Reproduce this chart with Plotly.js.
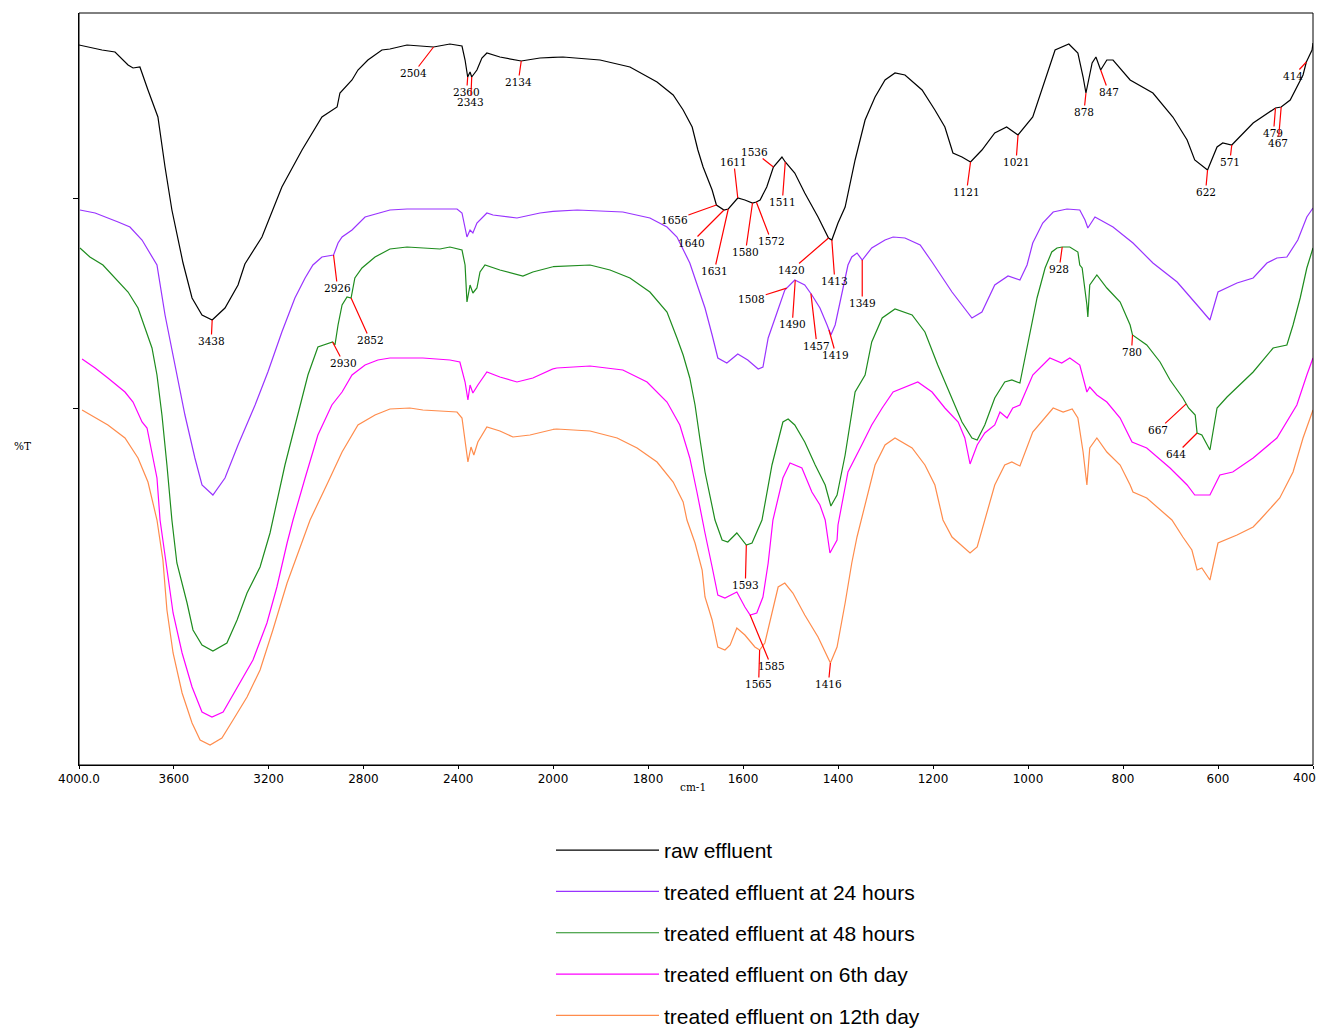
<!DOCTYPE html>
<html>
<head>
<meta charset="utf-8">
<script src="https://cdn.plot.ly/plotly-3.0.1.min.js"></script>
<style>html,body{margin:0;padding:0;background:#fff;}#chart{width:1319px;height:1032px;}</style>
</head>
<body>
<div id="chart"></div>
<script>
// ---- Series: wavenumber (cm-1) and %T (arbitrary offset scale) ----
const rawWn = [4000,3903,3848,3793,3772,3743,3709,3667,3637,3608,3561,3523,3481,3438,3384,3329,3300,3228,3144,3059,2975,2911,2899,2848,2823,2781,2722,2688,2616,2504,2435,2384,2371,2360,2350,2343,2321,2300,2279,2224,2134,2055,1979,1901,1838,1781,1747,1726,1707,1695,1684,1665,1656,1640,1631,1611,1596,1580,1572,1564,1550,1536,1518,1511,1491,1470,1442,1420,1413,1400,1385,1364,1343,1322,1301,1280,1259,1223,1196,1175,1158,1139,1121,1097,1070,1045,1021,990,969,943,914,895,884,878,865,857,847,834,821,785,737,695,665,649,622,602,590,571,526,479,467,448,421,414,402,400];
const rawT = [72.0,71.5,71.3,70.0,69.7,69.8,67.5,64.8,59.8,55.5,50.2,46.7,45.0,44.5,45.7,48.0,50.1,52.8,57.8,61.5,64.8,65.8,67.2,68.5,69.5,70.5,71.5,71.6,72.0,71.8,72.1,71.9,70.5,68.8,69.3,68.8,69.5,70.7,71.2,70.8,70.4,70.7,70.8,70.5,69.8,68.3,67.0,65.5,63.8,61.5,59.8,57.5,56.0,55.5,55.6,56.7,56.5,56.2,56.3,56.5,57.8,59.8,60.8,60.3,59.2,57.2,54.8,52.7,52.5,54.2,55.8,60.5,64.5,66.8,68.5,69.2,69.0,67.5,65.5,63.8,61.2,60.8,60.3,61.5,63.2,63.8,63.0,64.8,67.8,71.5,72.1,71.2,68.8,67.2,70.2,70.8,69.5,70.5,70.5,68.5,67.2,64.8,62.5,60.5,59.5,61.8,62.2,62.0,64.2,65.7,65.8,66.5,69.0,70.3,71.5,72.2];

const h24Wn = [3996,3932,3835,3785,3734,3692,3671,3637,3595,3553,3511,3481,3435,3384,3329,3257,3203,3144,3089,3046,3013,2975,2926,2907,2890,2848,2793,2688,2616,2405,2384,2371,2363,2350,2338,2321,2279,2253,2152,2055,1949,1853,1796,1760,1739,1712,1680,1665,1653,1634,1611,1590,1568,1558,1547,1528,1512,1491,1470,1455,1438,1423,1415,1406,1392,1379,1371,1360,1349,1329,1301,1284,1259,1227,1202,1160,1118,1097,1070,1042,1017,1002,990,969,947,918,891,880,874,859,821,779,737,686,644,617,600,560,526,497,476,455,432,413,400];
const h24T = [55.5,55.2,54.3,53.8,52.5,50.8,50.0,45.0,40.0,35.0,30.7,28.0,27.0,28.7,32.0,36.0,39.3,43.3,46.7,48.7,50.0,50.8,51.0,52.2,52.8,53.5,54.8,55.5,55.6,55.6,55.2,53.8,52.8,53.5,53.2,54.2,55.2,55.0,54.7,55.2,55.5,55.3,54.7,53.8,52.8,50.2,45.7,43.0,40.7,40.2,41.1,40.5,39.6,39.8,42.7,45.3,47.5,48.5,48.0,47.0,45.7,44.0,43.0,44.0,47.3,50.0,50.8,51.2,50.5,51.7,52.5,52.8,52.7,52.0,50.3,47.3,44.7,45.3,48.0,48.9,48.5,50.0,52.2,54.2,55.3,55.6,55.5,54.5,53.7,54.8,53.8,52.2,50.2,48.3,46.0,44.5,47.3,48.2,48.7,50.2,50.7,50.8,52.5,54.8,55.7];

const h48Wn = [3996,3954,3899,3848,3793,3751,3722,3692,3671,3650,3629,3608,3587,3544,3519,3481,3435,3376,3333,3291,3236,3194,3131,3076,3034,2992,2949,2930,2920,2907,2890,2869,2852,2836,2806,2751,2688,2616,2477,2435,2384,2371,2363,2350,2338,2321,2308,2287,2224,2169,2127,2085,2013,1922,1880,1838,1796,1760,1739,1726,1712,1701,1691,1680,1659,1644,1632,1613,1593,1581,1560,1539,1516,1505,1491,1470,1448,1427,1415,1402,1385,1364,1343,1329,1307,1280,1244,1217,1190,1160,1139,1118,1107,1091,1070,1049,1034,1017,996,981,964,950,939,928,912,895,891,886,876,874,870,855,834,806,785,780,750,722,701,674,662,648,644,634,617,602,581,554,526,484,455,442,427,413,400];
const h48T = [51.7,50.8,50.0,48.7,47.3,45.7,43.7,41.7,39.0,35.0,30.0,24.5,20.2,16.2,13.5,12.0,11.4,12.2,14.5,17.2,19.8,23.2,30.0,35.0,39.0,41.8,42.2,42.3,42.0,44.0,46.0,46.8,46.7,48.7,49.7,50.8,51.6,51.8,51.6,51.8,51.5,50.0,46.3,48.0,47.2,47.7,49.3,50.0,49.5,49.2,48.9,49.3,49.8,50.0,49.5,48.7,47.3,45.3,42.7,41.0,38.7,36.0,32.7,29.3,24.5,22.5,22.3,23.2,22.0,22.2,24.5,30.0,34.3,34.6,34.0,32.3,30.0,28.0,25.9,27.0,31.0,37.3,39.0,42.3,44.7,45.6,45.0,43.3,40.0,36.7,34.3,32.7,32.5,34.0,36.7,38.3,38.5,38.2,43.3,46.7,49.7,51.3,51.7,51.8,51.8,51.3,50.0,49.7,46.0,44.8,48.0,49.0,47.7,46.3,44.0,43.0,42.0,40.3,38.5,36.7,35.7,35.0,33.2,33.0,31.5,35.7,36.8,38.0,39.3,41.7,42.0,44.0,46.7,49.7,51.7];

const d6Wn = [3987,3932,3878,3806,3772,3734,3713,3692,3671,3658,3629,3603,3565,3523,3481,3439,3392,3333,3266,3207,3165,3122,3097,3046,2992,2933,2890,2848,2793,2739,2688,2549,2435,2393,2371,2359,2350,2338,2317,2279,2224,2152,2085,1992,1922,1853,1802,1760,1733,1712,1697,1686,1680,1665,1653,1638,1613,1596,1585,1571,1558,1547,1537,1516,1501,1476,1455,1438,1427,1417,1402,1400,1379,1350,1329,1307,1284,1232,1202,1175,1147,1133,1122,1107,1091,1070,1059,1044,1032,1017,990,954,929,912,891,876,870,855,834,806,781,750,701,665,649,617,596,569,526,476,434,413,400];
const d6T = [40.6,39.7,38.7,37.3,36.3,34.3,33.7,31.3,28.7,24.5,19.5,15.2,11.2,7.8,5.3,4.8,5.3,7.8,10.5,14.2,17.8,22.2,24.5,28.7,33.0,36.0,37.3,39.0,40.0,40.5,40.7,40.7,40.5,40.3,38.3,36.5,38.0,37.2,38.0,39.3,38.8,38.3,38.7,39.7,39.9,39.5,38.3,36.3,34.0,30.7,27.3,24.5,23.2,19.8,17.0,16.7,17.3,15.8,15.0,15.2,16.8,20.2,24.5,28.7,30.2,29.7,27.3,26.0,24.5,21.2,22.5,24.0,29.3,32.0,34.0,35.7,37.3,38.3,37.3,35.7,34.3,32.7,30.1,32.0,33.2,34.0,35.3,34.7,35.7,36.0,39.0,40.7,40.2,40.7,40.0,37.3,37.8,37.0,36.3,34.7,32.3,31.7,29.7,28.0,27.0,27.0,29.0,29.3,30.7,32.7,36.0,39.0,40.7];

const d12Wn = [3987,3932,3878,3806,3751,3709,3671,3646,3629,3603,3565,3523,3489,3447,3397,3350,3291,3236,3182,3122,3068,3025,2949,2890,2823,2751,2688,2604,2549,2405,2384,2371,2359,2346,2334,2317,2279,2224,2169,2097,1992,1922,1865,1823,1781,1747,1726,1718,1701,1686,1680,1665,1653,1638,1627,1613,1596,1575,1565,1554,1539,1526,1512,1495,1470,1442,1416,1402,1385,1371,1360,1347,1322,1301,1280,1244,1217,1196,1179,1160,1122,1107,1091,1070,1049,1034,1017,990,947,926,907,895,884,876,870,855,834,806,785,779,750,716,697,674,655,644,634,617,600,560,526,512,470,442,421,400];
const d12T = [35.5,34.7,34.0,32.7,30.7,28.3,24.5,20.5,15.5,11.2,7.2,4.2,2.5,2.0,2.7,4.5,6.8,9.5,13.5,18.2,21.8,24.5,28.3,31.3,34.0,35.0,35.6,35.7,35.5,35.3,34.7,32.3,30.3,31.8,31.0,32.3,33.8,33.4,32.8,33.0,33.6,33.4,32.7,31.7,30.3,28.3,26.3,24.5,22.2,19.5,16.8,14.5,11.8,11.5,12.0,13.7,13.0,11.8,11.5,12.2,15.2,17.8,18.2,17.2,15.0,12.8,10.2,11.8,16.2,20.2,22.8,25.3,30.0,32.0,32.7,31.7,30.0,28.0,24.5,22.8,21.2,21.8,24.5,28.0,30.0,30.3,29.9,33.3,35.7,35.3,35.6,34.7,31.3,28.0,31.7,32.7,31.3,30.0,28.0,27.3,26.7,25.3,24.5,22.8,21.5,19.5,19.7,18.5,22.2,23.0,23.8,24.5,26.7,29.3,32.7,35.5];

const seriesNames = ['raw effluent','treated effluent at 24 hours','treated effluent at 48 hours','treated effluent on 6th day','treated effluent on 12th day'];
const seriesColors = ['#000000','#9933ff','#1e8c1e','#ff00ff','#ff8c4c'];

// tick labels
const xTicksHigh = [4000,3600,3200,2800,2400];
const xTickTextHigh = ['4000.0','3600','3200','2800','2400'];
const xTicksLow = [2000,1800,1600,1400,1200,1000,800,600,400];
const xTickTextLow = ['2000','1800','1600','1400','1200','1000','800','600',''];
const xEndLabel = '400';

// peak labels: [series index, wavenumber, label dx px, label dy px]
const peakList = [
 [0,3438,-1,21],[0,2504,-20,26],[0,2360,-1,15],[0,2343,-1,25],[0,2134,-3,21],
 [0,1656,-42,15],[0,1640,-33,33],[0,1631,-14,62],[0,1611,-4,-36],[0,1536,-19,-15],
 [0,1580,-7,49],[0,1572,15,39],[0,1511,-3,40],[0,1420,-37,32],[0,1413,3,41],
 [0,1121,-4,30],[0,1021,-2,27],[0,878,-2,19],[0,847,8,22],[0,622,-2,22],
 [0,571,-2,17],[0,479,-2,25],[0,467,-3,36],[0,414,-13,14],
 [1,2926,4,33],[1,1508,-35,11],[1,1490,-3,44],[1,1457,6,52],[1,1419,7,25],[1,1349,0,43],
 [2,2930,11,21],[2,2852,19,42],[2,928,-3,22],[2,780,-1,17],[2,667,-28,26],[2,644,-21,21],[2,1593,-1,40],
 [3,1585,21,51],
 [4,1565,-1,34],[4,1416,-2,21]
];

const allWn = [rawWn,h24Wn,h48Wn,d6Wn,d12Wn];
const allT = [rawT,h24T,h48T,d6T,d12T];

function interp(wn, vals, w){
  for(let i=0;i<wn.length-1;i++){
    const a=wn[i], b=wn[i+1];
    if((w<=a && w>=b) || (w>=a && w<=b)){
      if(a===b) return vals[i];
      return vals[i] + (vals[i+1]-vals[i])*(w-a)/(b-a);
    }
  }
  return w>wn[0]?vals[0]:vals[vals.length-1];
}

const SPLIT = 2000;
const traces = [];
allWn.forEach((wn,k)=>{
  const t = allT[k];
  const vSplit = interp(wn,t,SPLIT);
  const hx=[],hy=[],lx=[],ly=[];
  wn.forEach((w,i)=>{ if(w>SPLIT){hx.push(w);hy.push(t[i]);} else if(w<SPLIT){lx.push(w);ly.push(t[i]);} });
  hx.push(SPLIT); hy.push(vSplit);
  lx.unshift(SPLIT); ly.unshift(vSplit);
  const line = {color:seriesColors[k], width:1.2};
  traces.push({x:hx,y:hy,xaxis:'x',yaxis:'y',mode:'lines',line:line,name:seriesNames[k],legendgroup:'g'+k,showlegend:true,hoverinfo:'skip'});
  traces.push({x:lx,y:ly,xaxis:'x2',yaxis:'y',mode:'lines',line:line,name:seriesNames[k],legendgroup:'g'+k,showlegend:false,hoverinfo:'skip'});
});

const annotations = peakList.map(p=>{
  const k=p[0], w=p[1];
  return {
    x:w, y:interp(allWn[k],allT[k],w), xref: w>=SPLIT?'x':'x2', yref:'y',
    text:String(w), showarrow:true, arrowhead:0, arrowwidth:1.2, arrowcolor:'#ff0000',
    ax:p[2], ay:p[3], standoff:0, borderpad:0,
    font:{family:'DejaVu Serif, Liberation Serif, serif', size:10.5, color:'#000'}
  };
});
const tickFont = {family:'DejaVu Sans, Verdana, sans-serif', size:12, color:'#000'};
annotations.push({xref:'x2',yref:'paper',x:400,y:0,xanchor:'right',xshift:5,yanchor:'middle',yshift:-13,showarrow:false,text:xEndLabel,font:tickFont});
annotations.push({xref:'paper',yref:'paper',x:(693-79)/1234,y:0,yshift:-22,yanchor:'middle',showarrow:false,text:'cm-1',font:{family:'DejaVu Serif, serif',size:10.5,color:'#000'}});
annotations.push({xref:'paper',yref:'paper',x:(22-79)/1234,y:(765-446)/752,xanchor:'center',yanchor:'middle',showarrow:false,text:'%T',font:{family:'DejaVu Serif, serif',size:10.5,color:'#000'}});

const xBase = {showgrid:false, zeroline:false, showline:true, linecolor:'#000', linewidth:1, ticks:'outside', ticklen:3, tickcolor:'#000', tickfont:tickFont, anchor:'y', fixedrange:true};

const layout = {
  width:1319, height:1032,
  margin:{l:79,r:6,t:13,b:267,autoexpand:false},
  paper_bgcolor:'#fff', plot_bgcolor:'#fff',
  hovermode:false,
  xaxis:Object.assign({},xBase,{domain:[0,474/1234],range:[4000,SPLIT],tickmode:'array',tickvals:xTicksHigh,ticktext:xTickTextHigh}),
  xaxis2:Object.assign({},xBase,{domain:[474/1234,1],range:[SPLIT,400],tickmode:'array',tickvals:xTicksLow,ticktext:xTickTextLow}),
  yaxis:{range:[0,75.2],showgrid:false,zeroline:false,showline:true,linecolor:'#000',linewidth:1,showticklabels:false,ticks:'outside',ticklen:5,tickcolor:'#000',tickmode:'array',tickvals:[56.7,35.7],fixedrange:true},
  shapes:[{type:'rect',xref:'paper',yref:'paper',x0:0,x1:1,y0:0,y1:1,line:{color:'#000',width:1},fillcolor:'rgba(0,0,0,0)'}],
  annotations:annotations,
  showlegend:true,
  legend:{orientation:'v',x:(551-79)/1234,y:(765-830)/752,xanchor:'left',yanchor:'top',traceorder:'grouped',tracegroupgap:11,itemwidth:103,bgcolor:'rgba(0,0,0,0)',font:{family:'Liberation Sans, Arial, sans-serif',size:21,color:'#000'}}
};

Plotly.newPlot('chart',traces,layout,{displayModeBar:false,staticPlot:true});
</script>
</body>
</html>
